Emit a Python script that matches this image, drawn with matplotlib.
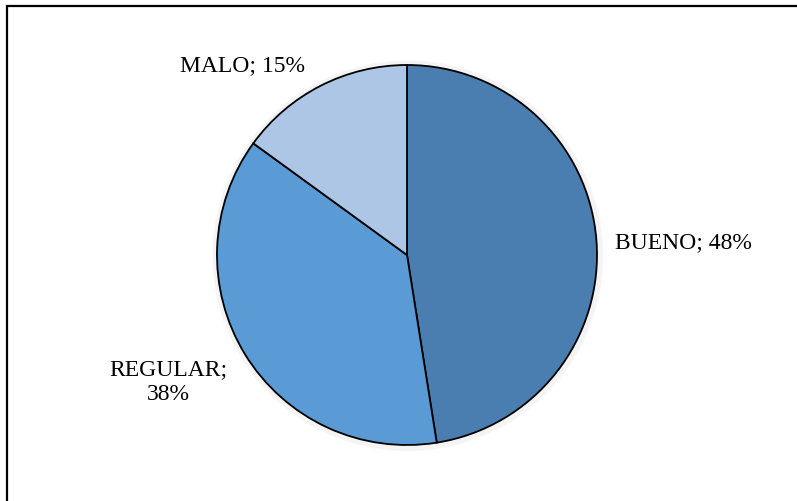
import matplotlib
matplotlib.use("Agg")
import matplotlib.pyplot as plt
from matplotlib.patches import Circle, Rectangle

categories = ["BUENO", "REGULAR", "MALO"]
counts = [19, 15, 6]
pct_labels = ["48%", "38%", "15%"]
colors = ["#4a7eb0", "#5b9bd5", "#adc6e6"]

W, H = 797, 502
fig = plt.figure(figsize=(W / 100, H / 100), dpi=100)
fig.patch.set_facecolor("white")

# frame (left and top visible)
fig.add_artist(Rectangle((7.5 / W, -0.1), 1.2, (H - 6.5) / H + 0.1, transform=fig.transFigure,
                         fill=False, edgecolor="black", linewidth=1.6))

cx, cy, r = 407, 256, 190
ax = fig.add_axes([(cx - r) / W, (H - cy - r) / H, 2 * r / W, 2 * r / H])
ax.set_xlim(-1, 1)
ax.set_ylim(-1, 1)
ax.set_aspect("equal")
ax.axis("off")

# soft shadow
for i in range(6):
    ax.add_patch(Circle((0.004, -0.004), 1.0 + 0.005 * i, facecolor="none",
                        edgecolor="gray", linewidth=1.5, alpha=0.035, zorder=0, clip_on=False))

ax.pie(counts, colors=colors, startangle=90, counterclock=False, radius=1.0,
       wedgeprops=dict(edgecolor="black", linewidth=1.3), frame=False)
ax.set_xlim(-1, 1)
ax.set_ylim(-1, 1)

font = dict(family=["Liberation Serif", "DejaVu Serif"], fontsize=17, color="black")
fig.text(683 / W, 1 - 243 / H, f"{categories[0]}; {pct_labels[0]}", ha="center", va="center", **font)
fig.text(168 / W, 1 - 382 / H, f"{categories[1]};\n{pct_labels[1]}", ha="center", va="center",
         linespacing=1.2, **font)
fig.text(243 / W, 1 - 66 / H, f"{categories[2]}; {pct_labels[2]}", ha="center", va="center", **font)

fig.savefig("out.png", dpi=100, facecolor="white")
